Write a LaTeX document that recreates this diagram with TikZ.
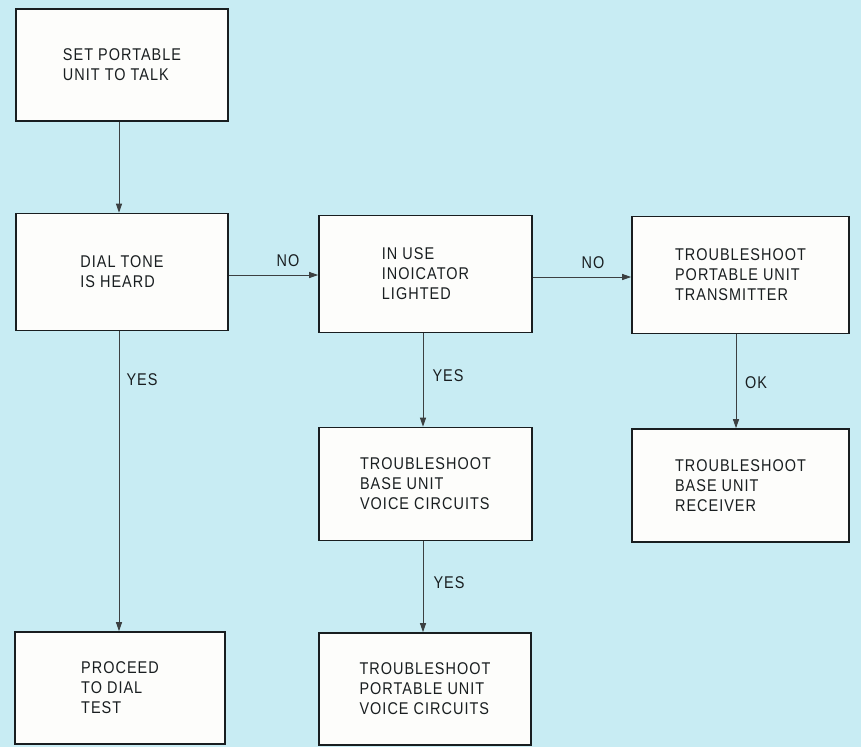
\documentclass[tikz,border=0pt]{standalone}
\usepackage{fontspec}
\setmainfont{Liberation Sans}[FakeStretch=0.85,LetterSpace=6]
\usetikzlibrary{arrows.meta}
\definecolor{bgcol}{RGB}{200,236,243}
\definecolor{boxfill}{RGB}{253,253,251}
\definecolor{inkcol}{RGB}{25,30,32}
\begin{document}
\begin{tikzpicture}[x=1pt,y=-1pt,
  box/.style={draw=inkcol,line width=1.6pt,fill=boxfill,inner sep=0pt,
    align=left,text=inkcol,font=\fontsize{17}{20}\selectfont},
  arr/.style={draw=inkcol!85,line width=0.9pt,-{Triangle[length=9pt,width=6pt]}},
  lbl/.style={text=inkcol,font=\fontsize{17}{20}\selectfont,inner sep=0pt}]
\fill[bgcol] (0,0) rectangle (861,747);
\useasboundingbox (0,0) rectangle (861,747);
% boxes
\node[box,minimum width=212pt,minimum height=112pt] (b1) at (122,65) {SET PORTABLE\\UNIT TO TALK};
\node[box,minimum width=212pt,minimum height=117pt] (b2) at (122,272) {DIAL TONE\\IS HEARD};
\node[box,minimum width=213pt,minimum height=117pt] (b3) at (425.5,274) {IN USE\\INOICATOR\\LIGHTED};
\node[box,minimum width=217pt,minimum height=117pt] (b4) at (740.5,275) {TROUBLESHOOT\\PORTABLE UNIT\\TRANSMITTER};
\node[box,minimum width=213pt,minimum height=113pt] (b5) at (425.5,484) {TROUBLESHOOT\\BASE UNIT\\VOICE CIRCUITS};
\node[box,minimum width=217pt,minimum height=113pt] (b6) at (740.5,485.5) {TROUBLESHOOT\\BASE UNIT\\RECEIVER};
\node[box,minimum width=210pt,minimum height=112pt] (b7) at (120,688) {PROCEED\\TO DIAL\\TEST};
\node[box,minimum width=212pt,minimum height=112pt] (b8) at (425,689) {TROUBLESHOOT\\PORTABLE UNIT\\VOICE CIRCUITS};
% connector x positions
\coordinate (x1) at (119,0);
\coordinate (x2) at (423,0);
\coordinate (x3) at (736,0);
\coordinate (y1) at (0,275);
\coordinate (y2) at (0,277);
% connectors
\draw[arr] (b1.south -| x1) -- (b2.north -| x1);
\draw[arr] (b2.south -| x1) -- (b7.north -| x1);
\draw[arr] (b2.east |- y1) -- (b3.west |- y1);
\draw[arr] (b3.east |- y2) -- (b4.west |- y2);
\draw[arr] (b3.south -| x2) -- (b5.north -| x2);
\draw[arr] (b5.south -| x2) -- (b8.north -| x2);
\draw[arr] (b4.south -| x3) -- (b6.north -| x3);
% labels
\node[lbl] (l1) at (288,261) {NO};
\node[lbl] (l2) at (593,263) {NO};
\node[lbl] (l3) at (142,380) {YES};
\node[lbl] (l4) at (448,376) {YES};
\node[lbl] (l5) at (756,383) {OK};
\node[lbl] (l6) at (449,583) {YES};
\end{tikzpicture}
\end{document}
